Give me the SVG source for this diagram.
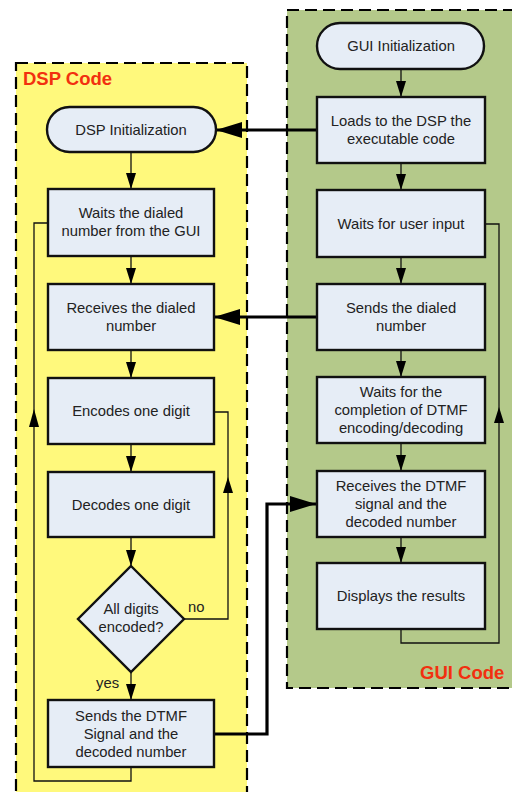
<svg xmlns="http://www.w3.org/2000/svg" width="512" height="792" viewBox="0 0 512 792">
<style>
.cont{stroke:#000;stroke-width:2.2;stroke-dasharray:12 6}
.box{fill:#E6EDF6;stroke:#111;stroke-width:2.4}
.t{font-family:"Liberation Sans",Arial,sans-serif;font-size:14.8px;fill:#222;text-anchor:middle}
.lbl{font-family:"Liberation Sans",Arial,sans-serif;font-size:14.8px;fill:#222}
.title{font-family:"Liberation Sans",Arial,sans-serif;font-size:18.5px;font-weight:bold;fill:#F2300F}
.thin{fill:none;stroke:#111;stroke-width:1.3}
.thick{fill:none;stroke:#000;stroke-width:3.2}
</style>
<defs>
<marker id="sm" viewBox="0 0 16 10" markerWidth="16" markerHeight="10" refX="16" refY="5" orient="auto" markerUnits="userSpaceOnUse"><path d="M0,0 L16,5 L0,10 z" fill="#000"/></marker>
<marker id="big" viewBox="0 0 26 16" markerWidth="26" markerHeight="16" refX="26" refY="8" orient="auto" markerUnits="userSpaceOnUse"><path d="M0,0 L26,8 L0,16 z" fill="#000"/></marker>
</defs>
<rect width="512" height="792" fill="#fff"/>
<g id="dsp-container">
<rect x="16" y="63" width="231" height="745" fill="#FFF97C" class="cont"/>
<text class="title" x="23" y="85">DSP Code</text>
</g>
<g id="gui-container">
<rect x="287" y="10" width="240" height="678" fill="#B4C98A" class="cont"/>
<text class="title" x="420" y="679">GUI Code</text>
</g>
<g id="connectors">
<path class="thin" d="M131,152V189" marker-end="url(#sm)"/>
<path class="thin" d="M131,256V284" marker-end="url(#sm)"/>
<path class="thin" d="M131,350V378" marker-end="url(#sm)"/>
<path class="thin" d="M131,444V472" marker-end="url(#sm)"/>
<path class="thin" d="M131,537V566" marker-end="url(#sm)"/>
<path class="thin" d="M131,672V700" marker-end="url(#sm)"/>
<path class="thin" d="M131,767V781H34V223H48"/>
<polygon points="34,409 29,427 39,427" fill="#000"/>
<path class="thin" d="M184,619H228V412H214"/>
<polygon points="228,477 223,493 233,493" fill="#000"/>
<path class="thin" d="M401,69V97" marker-end="url(#sm)"/>
<path class="thin" d="M401,163V190" marker-end="url(#sm)"/>
<path class="thin" d="M401,257V284" marker-end="url(#sm)"/>
<path class="thin" d="M401,350V377" marker-end="url(#sm)"/>
<path class="thin" d="M401,443V471" marker-end="url(#sm)"/>
<path class="thin" d="M401,537V563" marker-end="url(#sm)"/>
<path class="thin" d="M401,629V643H499V224H485"/>
<polygon points="499,407 494,423 504,423" fill="#000"/>
<path class="thick" d="M317,130H216" marker-end="url(#big)"/>
<path class="thick" d="M317,317H214" marker-end="url(#big)"/>
<path class="thick" d="M214,734H267V504H316" marker-end="url(#big)"/>
<text class="lbl" x="188" y="612">no</text>
<text class="lbl" x="96" y="688">yes</text>
</g>
<g id="dsp-init">
<rect class="box" x="47" y="107" width="169" height="45" rx="22.5"/>
<text class="t" x="131" y="135">DSP Initialization</text>
</g>
<g id="dsp-wait">
<rect class="box" x="48" y="189" width="166" height="67"/>
<text class="t" x="131" y="218">Waits the dialed</text>
<text class="t" x="131" y="236">number from the GUI</text>
</g>
<g id="dsp-receive">
<rect class="box" x="48" y="284" width="166" height="66"/>
<text class="t" x="131" y="313">Receives the dialed</text>
<text class="t" x="131" y="331">number</text>
</g>
<g id="dsp-encode">
<rect class="box" x="48" y="378" width="166" height="66"/>
<text class="t" x="131" y="416">Encodes one digit</text>
</g>
<g id="dsp-decode">
<rect class="box" x="48" y="472" width="166" height="65"/>
<text class="t" x="131" y="510">Decodes one digit</text>
</g>
<g id="dsp-decision">
<polygon class="box" points="131,566 184,619 131,672 78,619"/>
<text class="t" x="131" y="614">All digits</text>
<text class="t" x="131" y="632">encoded?</text>
</g>
<g id="dsp-send">
<rect class="box" x="48" y="700" width="166" height="67"/>
<text class="t" x="131" y="721">Sends the DTMF</text>
<text class="t" x="131" y="739">Signal and the</text>
<text class="t" x="131" y="757">decoded number</text>
</g>
<g id="gui-init">
<rect class="box" x="317" y="23" width="167" height="46" rx="23"/>
<text class="t" x="401" y="51">GUI Initialization</text>
</g>
<g id="gui-load">
<rect class="box" x="317" y="97" width="168" height="66"/>
<text class="t" x="401" y="126">Loads to the DSP the</text>
<text class="t" x="401" y="144">executable code</text>
</g>
<g id="gui-wait">
<rect class="box" x="317" y="190" width="168" height="67"/>
<text class="t" x="401" y="229">Waits for user input</text>
</g>
<g id="gui-send">
<rect class="box" x="317" y="284" width="168" height="66"/>
<text class="t" x="401" y="313">Sends the dialed</text>
<text class="t" x="401" y="331">number</text>
</g>
<g id="gui-waitdtmf">
<rect class="box" x="317" y="377" width="168" height="66"/>
<text class="t" x="401" y="397">Waits for the</text>
<text class="t" x="401" y="415">completion of DTMF</text>
<text class="t" x="401" y="433">encoding/decoding</text>
</g>
<g id="gui-receive">
<rect class="box" x="317" y="471" width="168" height="66"/>
<text class="t" x="401" y="491">Receives the DTMF</text>
<text class="t" x="401" y="509">signal and the</text>
<text class="t" x="401" y="527">decoded number</text>
</g>
<g id="gui-display">
<rect class="box" x="317" y="563" width="168" height="66"/>
<text class="t" x="401" y="601">Displays the results</text>
</g>
</svg>
